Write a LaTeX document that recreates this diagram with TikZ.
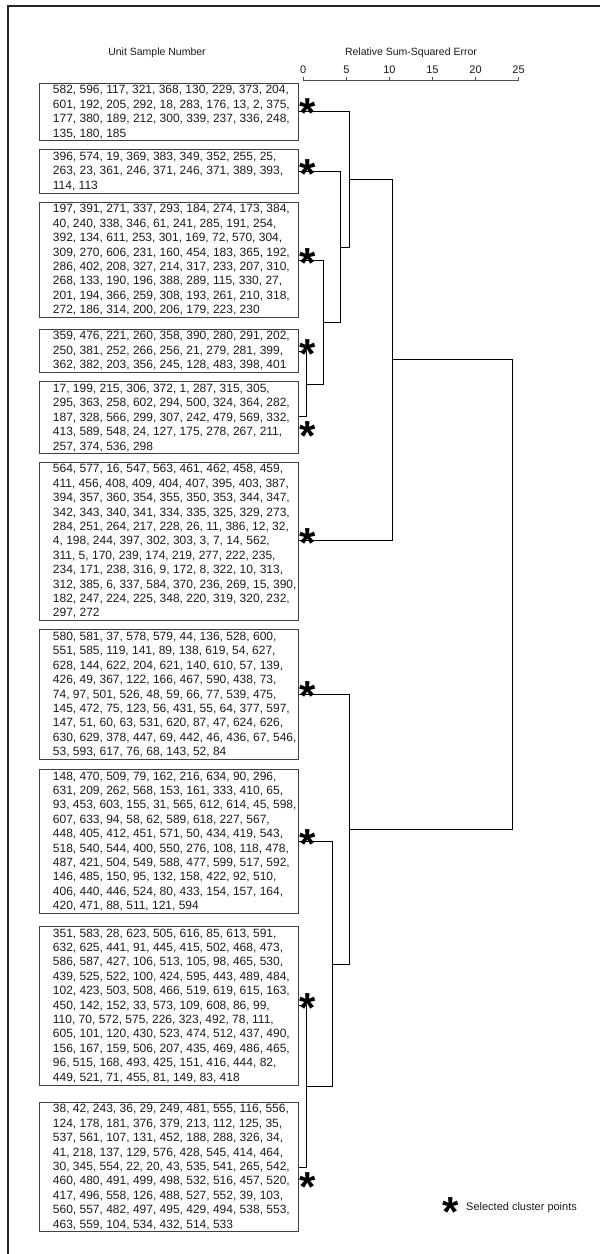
\documentclass[tikz,border=0pt]{standalone}
\usepackage{fontspec}
\setmainfont{Liberation Sans}
\usetikzlibrary{calc,positioning}
\definecolor{boxgray}{HTML}{404040}
\definecolor{txtgray}{HTML}{1A1A1A}
\newcommand{\clfont}{\fontsize{12}{14.4}\selectfont}

\begin{document}
\begin{tikzpicture}[x=1pt,y=-1pt,
  clist/.style={draw=boxgray, line width=0.9pt, anchor=north west,
    text width=258.4pt, inner xsep=0pt, inner ysep=2.3pt, align=left,
    font=\clfont, text=txtgray,
    execute at begin node={\leftskip=13.2pt\rightskip=0pt plus 1fil\spaceskip=0pt\xspaceskip=0pt}},
  link/.style={black, line width=0.8pt},
  axisline/.style={black!70, line width=0.8pt},
  selpt/.style={font=\bfseries\fontsize{42}{42}\selectfont, inner sep=0pt},
  head/.style={font=\fontsize{10.5}{12}\selectfont, text=txtgray},
  ticklab/.style={font=\fontsize{11}{12}\selectfont, text=txtgray},
  legtext/.style={font=\fontsize{11}{12}\selectfont, text=txtgray, inner sep=0pt}]

  \useasboundingbox (0,0) rectangle (600,1254);

  % ----- moldura -----
  \draw[line width=2.2pt, black!85] (600,6) -- (8.3,6) -- (8.3,1254);

  % ----- titulos -----
  \node[head] (hunit) at (157,52.3) {Unit Sample Number};
  \node[head] (herr)  at (411,52.3) {Relative Sum-Squared Error};

  % ----- escala -----
  \coordinate (ax0)  at (303.3,80);
  \coordinate (ax25) at (518.6,80);
  \draw[axisline] (ax0) -- (ax25);
  \foreach \v in {0,5,...,25} {
    \coordinate (tk\v) at ($(ax0)!\v/25!(ax25)$);
    \draw[axisline] (tk\v) -- ++(0,-3.5);
    \node[ticklab] (tl\v) at ($(tk\v)+(0,-10)$) {\v};
  }

  % ----- grupos -----
  \node[clist] (c1) at (39.3,82.7) {582, 596, 117, 321, 368, 130, 229, 373, 204,\\
    601, 192, 205, 292, 18, 283, 176, 13, 2, 375,\\
    177, 380, 189, 212, 300, 339, 237, 336, 248,\\
    135, 180, 185};
  \node[clist] (c2) at (39.3,149.3) {396, 574, 19, 369, 383, 349, 352, 255, 25,\\
    263, 23, 361, 246, 371, 246, 371, 389, 393,\\
    114, 113};
  \node[clist] (c3) at (39.3,201.7) {197, 391, 271, 337, 293, 184, 274, 173, 384,\\
    40, 240, 338, 346, 61, 241, 285, 191, 254,\\
    392, 134, 611, 253, 301, 169, 72, 570, 304,\\
    309, 270, 606, 231, 160, 454, 183, 365, 192,\\
    286, 402, 208, 327, 214, 317, 233, 207, 310,\\
    268, 133, 190, 196, 388, 289, 115, 330, 27,\\
    201, 194, 366, 259, 308, 193, 261, 210, 318,\\
    272, 186, 314, 200, 206, 179, 223, 230};
  \node[clist] (c4) at (39.3,328.5) {359, 476, 221, 260, 358, 390, 280, 291, 202,\\
    250, 381, 252, 266, 256, 21, 279, 281, 399,\\
    362, 382, 203, 356, 245, 128, 483, 398, 401};
  \node[clist] (c5) at (39.3,381.3) {17, 199, 215, 306, 372, 1, 287, 315, 305,\\
    295, 363, 258, 602, 294, 500, 324, 364, 282,\\
    187, 328, 566, 299, 307, 242, 479, 569, 332,\\
    413, 589, 548, 24, 127, 175, 278, 267, 211,\\
    257, 374, 536, 298};
  \node[clist] (c6) at (39.3,461.7) {564, 577, 16, 547, 563, 461, 462, 458, 459,\\
    411, 456, 408, 409, 404, 407, 395, 403, 387,\\
    394, 357, 360, 354, 355, 350, 353, 344, 347,\\
    342, 343, 340, 341, 334, 335, 325, 329, 273,\\
    284, 251, 264, 217, 228, 26, 11, 386, 12, 32,\\
    4, 198, 244, 397, 302, 303, 3, 7, 14, 562,\\
    311, 5, 170, 239, 174, 219, 277, 222, 235,\\
    234, 171, 238, 316, 9, 172, 8, 322, 10, 313,\\
    312, 385, 6, 337, 584, 370, 236, 269, 15, 390,\\
    182, 247, 224, 225, 348, 220, 319, 320, 232,\\
    297, 272};
  \node[clist] (c7) at (39.3,629.3) {580, 581, 37, 578, 579, 44, 136, 528, 600,\\
    551, 585, 119, 141, 89, 138, 619, 54, 627,\\
    628, 144, 622, 204, 621, 140, 610, 57, 139,\\
    426, 49, 367, 122, 166, 467, 590, 438, 73,\\
    74, 97, 501, 526, 48, 59, 66, 77, 539, 475,\\
    145, 472, 75, 123, 56, 431, 55, 64, 377, 597,\\
    147, 51, 60, 63, 531, 620, 87, 47, 624, 626,\\
    630, 629, 378, 447, 69, 442, 46, 436, 67, 546,\\
    53, 593, 617, 76, 68, 143, 52, 84};
  \node[clist] (c8) at (39.3,769) {148, 470, 509, 79, 162, 216, 634, 90, 296,\\
    631, 209, 262, 568, 153, 161, 333, 410, 65,\\
    93, 453, 603, 155, 31, 565, 612, 614, 45, 598,\\
    607, 633, 94, 58, 62, 589, 618, 227, 567,\\
    448, 405, 412, 451, 571, 50, 434, 419, 543,\\
    518, 540, 544, 400, 550, 276, 108, 118, 478,\\
    487, 421, 504, 549, 588, 477, 599, 517, 592,\\
    146, 485, 150, 95, 132, 158, 422, 92, 510,\\
    406, 440, 446, 524, 80, 433, 154, 157, 164,\\
    420, 471, 88, 511, 121, 594};
  \node[clist] (c9) at (39.3,926) {351, 583, 28, 623, 505, 616, 85, 613, 591,\\
    632, 625, 441, 91, 445, 415, 502, 468, 473,\\
    586, 587, 427, 106, 513, 105, 98, 465, 530,\\
    439, 525, 522, 100, 424, 595, 443, 489, 484,\\
    102, 423, 503, 508, 466, 519, 619, 615, 163,\\
    450, 142, 152, 33, 573, 109, 608, 86, 99,\\
    110, 70, 572, 575, 226, 323, 492, 78, 111,\\
    605, 101, 120, 430, 523, 474, 512, 437, 490,\\
    156, 167, 159, 506, 207, 435, 469, 486, 465,\\
    96, 515, 168, 493, 425, 151, 416, 444, 82,\\
    449, 521, 71, 455, 81, 149, 83, 418};
  \node[clist] (c10) at (39.3,1101.7) {38, 42, 243, 36, 29, 249, 481, 555, 116, 556,\\
    124, 178, 181, 376, 379, 213, 112, 125, 35,\\
    537, 561, 107, 131, 452, 188, 288, 326, 34,\\
    41, 218, 137, 129, 576, 428, 545, 414, 464,\\
    30, 345, 554, 22, 20, 43, 535, 541, 265, 542,\\
    460, 480, 491, 499, 498, 532, 516, 457, 520,\\
    417, 496, 558, 126, 488, 527, 552, 39, 103,\\
    560, 557, 482, 497, 495, 429, 494, 538, 553,\\
    463, 559, 104, 534, 432, 514, 533};

  % ----- pontos de ligacao -----
  \coordinate (a1)  at (c1.east |- 0,111);
  \coordinate (a2)  at (c2.east |- 0,171.7);
  \coordinate (a3)  at (c3.east |- 0,260.7);
  \coordinate (a4)  at (c4.east |- 0,351.7);
  \coordinate (a5)  at (c5.east |- 0,416.7);
  \coordinate (a6)  at (c6.east |- 0,540.7);
  \coordinate (a7)  at (c7.east |- 0,694);
  \coordinate (a8)  at (c8.east |- 0,841.7);
  \coordinate (a9)  at (c9.east |- 0,1005.7);
  \coordinate (a10) at (c10.east |- 0,1167.7);

  % ----- niveis de fusao -----
  \coordinate (x45)  at (306,0);
  \coordinate (x3)   at (323.7,0);
  \coordinate (x2)   at (340.3,0);
  \coordinate (x1)   at (349.3,0);
  \coordinate (x6)   at (392.3,0);
  \coordinate (x910) at (306,0);
  \coordinate (x8)   at (332.3,0);
  \coordinate (x7)   at (349,0);
  \coordinate (xr)   at (512.7,0);

  % ----- macro: \merge{topo}{base}{nivel}{nome} -----
  \newcommand{\merge}[4]{%
    \draw[link] (#1) -- (#1 -| #3) -- (#2 -| #3) -- (#2);
    \coordinate (#4) at ($(#1 -| #3)!0.5!(#2 -| #3)$);
  }

  \merge{a4}{a5}{x45}{m45}
  \merge{a3}{m45}{x3}{m3}
  \merge{a2}{m3}{x2}{m2}
  \merge{a1}{m2}{x1}{m1}
  \merge{m1}{a6}{x6}{m6}
  \merge{a9}{a10}{x910}{m910}
  \merge{a8}{m910}{x8}{m8}
  \merge{a7}{m8}{x7}{m7}
  \merge{m6}{m7}{xr}{mr}

  % ----- pontos selecionados -----
  \foreach \k in {1,2,3,4,6,7,8,9}
    \node[selpt] (s\k) at ($(a\k)+(9,2.3)$) {*};
  \foreach \k in {5,10}
    \node[selpt] (s\k) at ($(a\k)+(9,19.5)$) {*};

  % ----- legenda -----
  \node[selpt] (ls) at (451,1212) {*};
  \node[legtext, anchor=west] (lt) at (466,1208) {Selected cluster points};

\end{tikzpicture}
\end{document}
